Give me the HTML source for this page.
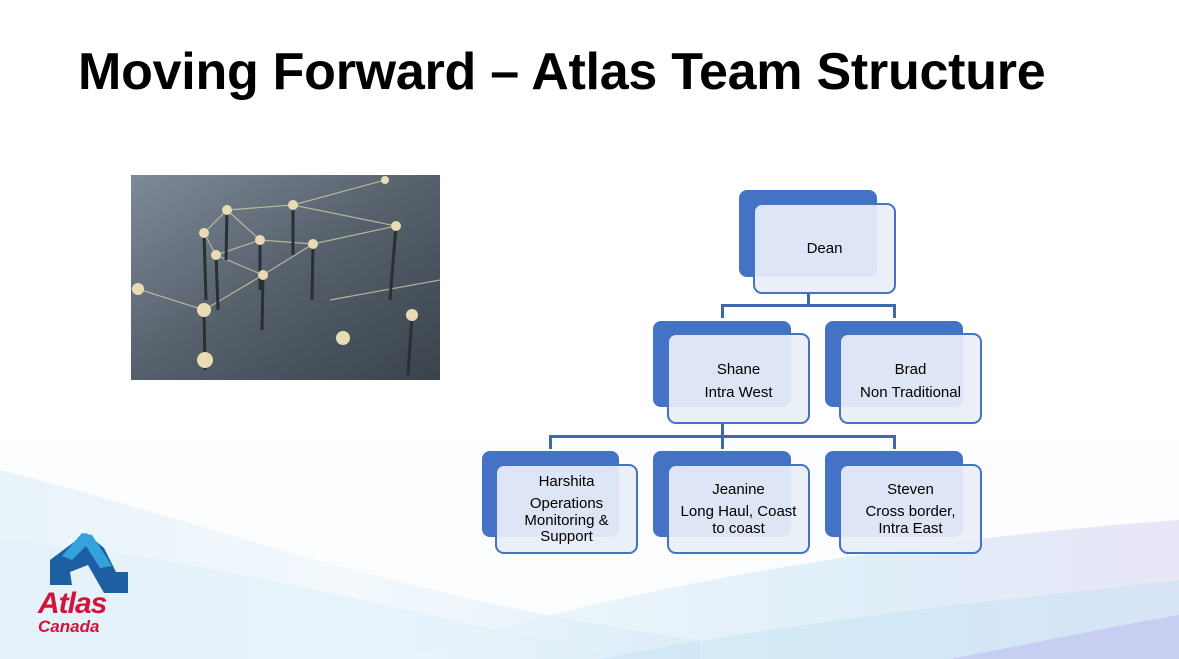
<!DOCTYPE html>
<html><head><meta charset="utf-8"><style>
html,body{margin:0;padding:0}
body{width:1179px;height:659px;position:relative;overflow:hidden;background:#fff;font-family:"Liberation Sans",Arial,sans-serif}
h1{position:absolute;left:78px;top:42px;margin:0;font-size:52px;font-weight:bold;color:#000;letter-spacing:-0.25px;white-space:nowrap}
.b{position:absolute;background:#4472c4;border-radius:8px}
.f{position:absolute;background:rgba(233,238,248,0.93);border:2px solid #4472c4;border-radius:9px;box-sizing:border-box}
.t{position:absolute;text-align:center;font-size:15px;line-height:17px;color:#000}
.l{position:absolute;background:#3f67ae}
</style></head><body>
<svg width="1179" height="659" style="position:absolute;left:0;top:0">
<defs>
<linearGradient id="w1" x1="0" y1="0" x2="1" y2="0"><stop offset="0" stop-color="#e3f0f9"/><stop offset="0.5" stop-color="#f0f7fc"/><stop offset="1" stop-color="#dcedf8"/></linearGradient>
<linearGradient id="w2" x1="0" y1="0" x2="1" y2="0"><stop offset="0" stop-color="#eaf4fb"/><stop offset="0.6" stop-color="#cde5f5"/><stop offset="1" stop-color="#dcd6f2"/></linearGradient>
<linearGradient id="ph" x1="0" y1="0" x2="1" y2="1"><stop offset="0" stop-color="#7e8a96"/><stop offset="0.5" stop-color="#55606b"/><stop offset="1" stop-color="#3a434c"/></linearGradient>
</defs>
<rect x="0" y="440" width="1179" height="219" fill="#fcfdfe"/>
<path d="M0 470 C200 520 400 600 700 640 L700 659 L0 659Z" fill="url(#w1)" opacity="0.8"/>
<path d="M0 540 C250 560 500 640 650 659 L0 659Z" fill="#e4f1fa" opacity="0.8"/>
<path d="M400 659 C600 590 900 540 1179 520 L1179 659Z" fill="url(#w2)" opacity="0.6"/>
<path d="M600 659 C800 620 1000 600 1179 580 L1179 659Z" fill="#c6e1f4" opacity="0.5"/>
<path d="M950 659 C1050 640 1120 625 1179 615 L1179 659Z" fill="#b8b8ee" opacity="0.5"/>
<rect x="131" y="175" width="309" height="205" fill="url(#ph)"/>
<g stroke="#d8d0a8" stroke-width="1.2" fill="none" opacity="0.75">
<path d="M204 233 L227 210 L293 205 L396 226 L313 244 L263 275 L216 255 L204 233"/>
<path d="M260 240 L313 244 M227 210 L260 240 M138 289 L204 310 L263 275 M293 205 L385 180 M216 255 L260 240 M330 300 L440 280"/>
</g>
<g stroke="#2a2f33" stroke-width="3">
<line x1="204" y1="233" x2="206" y2="300"/><line x1="227" y1="210" x2="226" y2="260"/><line x1="293" y1="205" x2="293" y2="255"/><line x1="396" y1="226" x2="390" y2="300"/><line x1="313" y1="244" x2="312" y2="300"/><line x1="263" y1="275" x2="262" y2="330"/><line x1="216" y1="255" x2="218" y2="310"/><line x1="260" y1="240" x2="260" y2="290"/><line x1="204" y1="310" x2="205" y2="370"/><line x1="412" y1="315" x2="408" y2="375"/>
</g>
<g fill="#e9dcb5"><circle cx="204" cy="233" r="5"/><circle cx="227" cy="210" r="5"/><circle cx="293" cy="205" r="5"/><circle cx="396" cy="226" r="5"/><circle cx="313" cy="244" r="5"/><circle cx="263" cy="275" r="5"/><circle cx="216" cy="255" r="5"/><circle cx="260" cy="240" r="5"/><circle cx="204" cy="310" r="7"/><circle cx="138" cy="289" r="6"/><circle cx="412" cy="315" r="6"/><circle cx="343" cy="338" r="7"/><circle cx="205" cy="360" r="8"/><circle cx="385" cy="180" r="4"/></g>
<path d="M50 560 L86 533 L104 548 L116 572 L128 572 L128 593 L104 593 L88 565 L70 572 L72 585 L50 585Z" fill="#1d5fa3"/>
<path d="M62 556 L82 533 L92 535 L112 566 L100 568 L86 546 L72 560Z" fill="#35a2de"/>
</svg>
<div style="position:absolute;left:38px;top:590px;color:#d2143a;font-weight:bold;font-style:italic;font-size:30px;line-height:28px;letter-spacing:-1px">Atlas</div>
<div style="position:absolute;left:38px;top:618px;color:#d2143a;font-weight:bold;font-style:italic;font-size:17px;line-height:18px">Canada</div>
<h1>Moving Forward – Atlas Team Structure</h1>

<div class="l" style="left:807px;top:292px;width:3px;height:14px"></div>
<div class="l" style="left:721px;top:304px;width:175px;height:3px"></div>
<div class="l" style="left:721px;top:304px;width:3px;height:14px"></div>
<div class="l" style="left:893px;top:304px;width:3px;height:14px"></div>
<div class="l" style="left:721px;top:422px;width:3px;height:15px"></div>
<div class="l" style="left:549px;top:435px;width:347px;height:3px"></div>
<div class="l" style="left:549px;top:435px;width:3px;height:14px"></div>
<div class="l" style="left:721px;top:435px;width:3px;height:14px"></div>
<div class="l" style="left:893px;top:435px;width:3px;height:14px"></div>

<div class="b" style="left:739px;top:190px;width:138px;height:87px"></div>
<div class="f" style="left:753px;top:203px;width:143px;height:91px"></div>
<div class="t" style="left:753px;top:240px;width:143px">Dean</div>

<div class="b" style="left:653px;top:321px;width:138px;height:86px"></div>
<div class="f" style="left:667px;top:333px;width:143px;height:91px"></div>
<div class="t" style="left:667px;top:358px;width:143px;line-height:23px">Shane<br>Intra West</div>

<div class="b" style="left:825px;top:321px;width:138px;height:86px"></div>
<div class="f" style="left:839px;top:333px;width:143px;height:91px"></div>
<div class="t" style="left:839px;top:358px;width:143px;line-height:23px">Brad<br>Non Traditional</div>

<div class="b" style="left:482px;top:451px;width:137px;height:86px"></div>
<div class="f" style="left:495px;top:464px;width:143px;height:90px"></div>
<div class="t" style="left:495px;top:473px;width:143px">Harshita</div>
<div class="t" style="left:495px;top:496px;width:143px;line-height:16.5px">Operations<br>Monitoring &amp;<br>Support</div>

<div class="b" style="left:653px;top:451px;width:138px;height:86px"></div>
<div class="f" style="left:667px;top:464px;width:143px;height:90px"></div>
<div class="t" style="left:667px;top:481px;width:143px">Jeanine</div>
<div class="t" style="left:667px;top:504px;width:143px;line-height:16.5px">Long Haul, Coast<br>to coast</div>

<div class="b" style="left:825px;top:451px;width:138px;height:86px"></div>
<div class="f" style="left:839px;top:464px;width:143px;height:90px"></div>
<div class="t" style="left:839px;top:481px;width:143px">Steven</div>
<div class="t" style="left:839px;top:504px;width:143px;line-height:16.5px">Cross border,<br>Intra East</div>
</body></html>
